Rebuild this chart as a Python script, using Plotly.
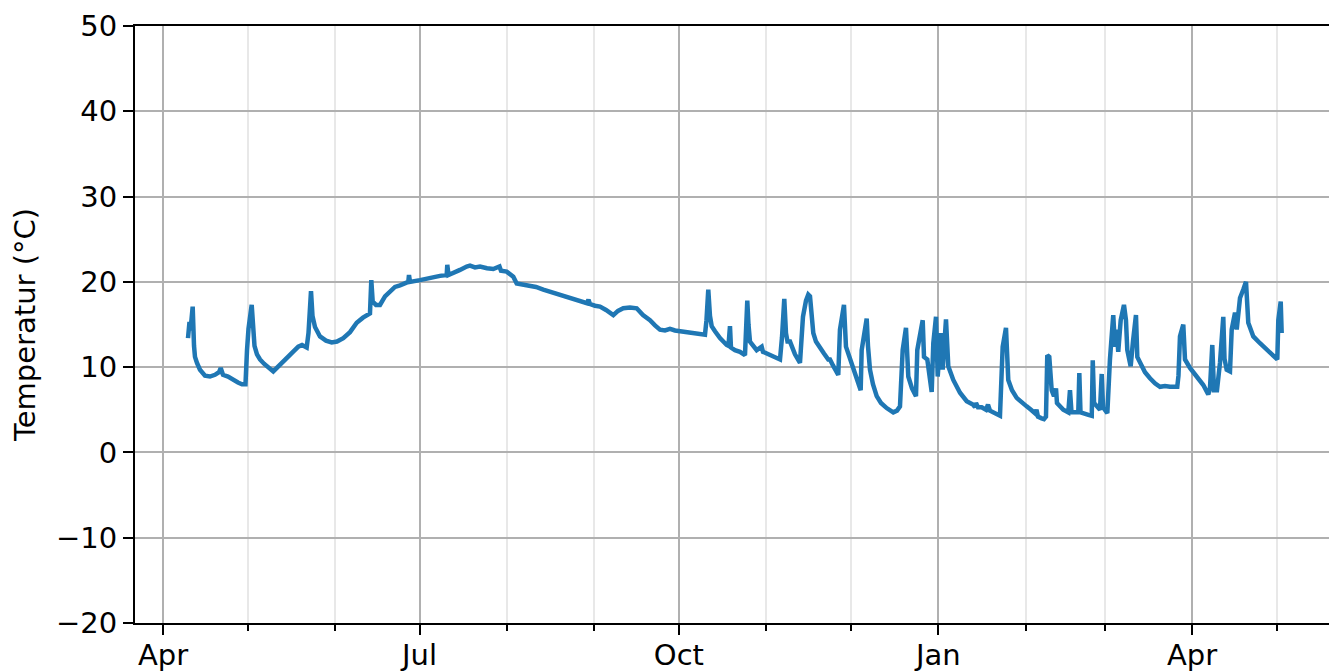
import pandas as pd
import plotly.graph_objects as go

# Time axis: days since 1 April 2022
BASE = "2022-04-01"
day = [8.87, 9.40, 9.75, 10.53, 11.00, 11.35, 12.06, 13.12, 14.90, 16.67, 18.44, 19.86, 20.47, 21.28,
       23.06, 24.83, 26.60, 28.02, 29.26, 29.80, 30.33, 31.46, 31.92, 32.46, 33.34, 34.41, 35.83, 37.35,
       39.12, 47.99, 49.31, 50.97, 51.61, 52.50, 53.03, 53.92, 55.69, 57.82, 59.84, 61.72, 63.95, 66.33,
       68.71, 70.94, 73.42, 73.89, 74.38, 75.56, 76.97, 78.75, 80.52, 82.29, 84.07, 85.84, 87.01, 87.26,
       87.61, 91.16, 93.64, 95.88, 98.25, 100.63, 100.84, 101.27, 102.97, 105.35, 107.72, 108.89, 110.67,
       112.44, 114.93, 117.16, 119.36, 119.89, 121.91, 123.08, 124.26, 125.46, 127.70, 130.18, 132.31,
       134.89, 137.98, 140.82, 143.30, 145.53, 147.91, 150.39, 150.93, 151.46, 153.24, 155.01, 157.14,
       159.73, 161.39, 163.27, 165.65, 168.03, 170.26, 172.74, 174.52, 176.29, 178.06, 179.84, 181.61,
       183.38, 185.87, 188.10, 190.48, 192.25, 192.78, 193.42, 194.02, 194.63, 195.80, 197.57, 199.95,
       200.58, 201.12, 201.47, 202.89, 204.66, 206.44, 206.79, 207.26, 207.68, 208.21, 210.59, 212.36,
       212.82, 215.31, 217.08, 218.86, 219.57, 220.38, 220.98, 221.52, 222.41, 224.18, 225.95, 226.48,
       227.01, 228.08, 228.89, 229.50, 230.03, 230.67, 231.62, 233.04, 234.46, 235.98, 236.59, 237.65,
       239.53, 240.13, 241.55, 242.26, 243.68, 244.85, 246.17, 247.48, 247.83, 248.65, 249.61, 250.07,
       250.78, 251.84, 253.16, 254.68, 256.70, 259.04, 260.36, 261.42, 262.38, 263.55, 264.37, 265.68,
       267.10, 267.56, 268.52, 269.48, 269.94, 271.11, 272.67, 273.24, 274.20, 274.80, 275.86, 276.57,
       277.74, 278.56, 280.33, 282.71, 285.08, 287.42, 288.03, 288.38, 289.09, 290.40, 291.93, 292.64,
       293.35, 295.12, 296.89, 297.85, 299.02, 299.84, 301.15, 302.82, 304.34, 306.36, 307.89, 309.31,
       309.84, 310.37, 311.68, 312.50, 313.21, 313.67, 314.38, 315.23, 316.05, 316.76, 317.11, 319.35,
       321.12, 321.72, 322.26, 324.67, 325.03, 325.45, 328.24, 329.44, 329.80, 330.26, 332.36, 332.98,
       333.44, 334.97, 335.90, 336.51, 337.07, 337.68, 338.28, 338.84, 339.71, 340.87, 341.58, 342.05,
       343.25, 344.07, 345.13, 345.60, 347.16, 348.33, 350.10, 351.87, 353.65, 355.42, 357.20, 359.78,
       360.21, 360.74, 361.91, 362.52, 364.29, 366.67, 369.01, 370.78, 371.38, 372.20, 372.80, 373.86,
       374.93, 376.10, 376.53, 377.31, 378.48, 379.09, 380.26, 380.86, 382.03, 383.20, 384.16, 384.97,
       385.57, 386.75, 389.12, 391.50, 393.84, 395.26, 395.62, 396.47, 396.82]

temperature = [13.4, 15.3, 14.3, 17.1, 12.5, 11.2, 10.5, 9.7, 9.0, 8.9, 9.1, 9.4, 9.9, 9.1,
               8.9, 8.5, 8.2, 8.0, 8.0, 12.0, 14.5, 17.3, 14.0, 12.5, 11.5, 10.9, 10.4, 9.9,
               9.5, 12.4, 12.6, 12.3, 14.0, 18.9, 16.0, 14.7, 13.6, 13.1, 12.9, 13.0, 13.4, 14.1,
               15.2, 15.8, 16.3, 20.2, 17.7, 17.3, 17.3, 18.3, 18.9, 19.4, 19.6, 19.9, 20.0, 20.8,
               20.0, 20.2, 20.4, 20.6, 20.7, 20.8, 22.0, 20.8, 21.0, 21.4, 21.8, 21.9, 21.7,
               21.8, 21.6, 21.5, 21.8, 21.3, 21.2, 20.9, 20.6, 19.8, 19.7, 19.6, 19.4,
               19.1, 18.8, 18.5, 18.2, 18.0, 17.8, 17.5, 17.9, 17.4, 17.2, 17.1, 16.7,
               16.1, 16.6, 16.9, 17.0, 16.9, 16.1, 15.5, 14.9, 14.4, 14.3, 14.5, 14.3,
               14.2, 14.1, 14.0, 13.9, 13.8, 15.5, 19.1, 16.0, 14.8, 14.2, 13.4, 12.6,
               12.5, 14.8, 12.3, 12.0, 11.8, 11.4, 13.5, 17.8, 15.0, 13.0, 12.0, 12.4,
               11.8, 11.4, 11.2, 10.9, 13.5, 18.0, 14.0, 13.0, 13.0, 11.5, 10.5, 13.0,
               15.9, 17.8, 18.5, 18.3, 16.0, 14.0, 13.0, 12.2, 11.6, 10.9, 10.9, 10.2,
               9.1, 14.4, 17.3, 12.4, 11.0, 9.7, 8.5, 7.3, 12.0, 14.0, 15.7, 12.5,
               9.7, 8.0, 6.6, 5.8, 5.2, 4.7, 4.9, 5.4, 12.0, 14.6, 8.9, 7.5,
               6.6, 12.0, 13.6, 15.5, 11.2, 10.9, 7.1, 12.8, 15.9, 8.9, 14.0, 9.7,
               15.6, 10.1, 8.5, 7.0, 6.0, 5.6, 5.3, 5.8, 5.3, 5.3, 5.0, 5.6,
               4.9, 4.6, 4.3, 12.4, 14.6, 8.5, 7.3, 6.4, 5.9, 5.4, 5.0, 4.6,
               5.0, 4.2, 4.0, 3.9, 4.2, 11.4, 11.2, 7.3, 6.6, 7.5, 5.8, 5.0,
               4.7, 7.3, 4.7, 4.7, 9.3, 4.7, 4.4, 4.3, 10.8, 5.8, 5.0, 9.2,
               5.3, 4.6, 10.9, 14.4, 16.1, 12.4, 14.4, 11.8, 15.5, 17.3, 15.5, 12.0,
               10.1, 13.0, 16.1, 11.2, 10.1, 9.4, 8.7, 8.1, 7.7, 7.8, 7.7, 7.7,
               9.0, 13.6, 15.0, 10.9, 9.9, 8.9, 7.9, 6.8, 7.5, 12.6, 7.3, 7.3,
               10.5, 15.9, 11.0, 9.7, 9.5, 14.4, 16.4, 14.4, 18.1, 19.1, 20.0, 15.2,
               14.6, 13.6, 12.8, 12.0, 11.2, 10.9, 15.5, 17.7, 14.0]

major_ticks = ["2022-04-01", "2022-07-01", "2022-10-01", "2023-01-01", "2023-04-01"]
major_labels = ["Apr", "Jul", "Oct", "Jan", "Apr"]
minor_ticks = ["2022-05-01", "2022-06-01", "2022-08-01", "2022-09-01", "2022-11-01",
               "2022-12-01", "2023-02-01", "2023-03-01", "2023-05-01"]
y_ticks = [-20, -10, 0, 10, 20, 30, 40, 50]
y_labels = ["\u221220", "\u221210", "0", "10", "20", "30", "40", "50"]

base = pd.Timestamp(BASE)
x = [base + pd.Timedelta(days=d) for d in day]
x_start = base - pd.Timedelta(days=9.93)
x_end = base + pd.Timedelta(days=413.6)

FONT = "DejaVu Sans"
FS = 29
fig = go.Figure()
fig.add_trace(go.Scatter(x=x, y=temperature, mode="lines",
                         line=dict(color="#1f77b4", width=4.5), showlegend=False,
                         hoverinfo="skip"))

fig.update_layout(
    width=1329, height=672,
    margin=dict(l=135, r=0, t=26, b=49, autoexpand=False),
    paper_bgcolor="white", plot_bgcolor="white",
    font=dict(family=FONT, size=FS, color="black"),
    hovermode=False,
)
fig.update_xaxes(
    type="date", range=[x_start, x_end],
    tickmode="array", tickvals=major_ticks, ticktext=major_labels,
    ticks="outside", ticklen=10, tickwidth=2, tickcolor="black",
    ticklabelstandoff=-5,
    showgrid=True, gridcolor="#b0b0b0", gridwidth=2,
    showline=True, linecolor="black", linewidth=2, mirror=True,
    zeroline=False,
    tickfont=dict(family=FONT, size=FS, color="black"),
    minor=dict(tickmode="array", tickvals=minor_ticks, ticks="outside", ticklen=6,
               tickwidth=1.6, tickcolor="black", showgrid=True,
               gridcolor="#e8e8e8", gridwidth=2),
)
fig.update_yaxes(
    range=[-20, 50], tickmode="array", tickvals=y_ticks, ticktext=y_labels,
    ticks="outside", ticklen=10, tickwidth=2, tickcolor="black",
    showgrid=True, gridcolor="#b0b0b0", gridwidth=2,
    showline=True, linecolor="black", linewidth=2, mirror=False,
    zeroline=False,
    tickfont=dict(family=FONT, size=FS, color="black"),
    title=dict(text="Temperatur (°C)", font=dict(family=FONT, size=FS, color="black"),
               standoff=12),
)
fig.write_html("out.html", config={"displayModeBar": False},
               post_script="document.body.style.margin='0px';")
